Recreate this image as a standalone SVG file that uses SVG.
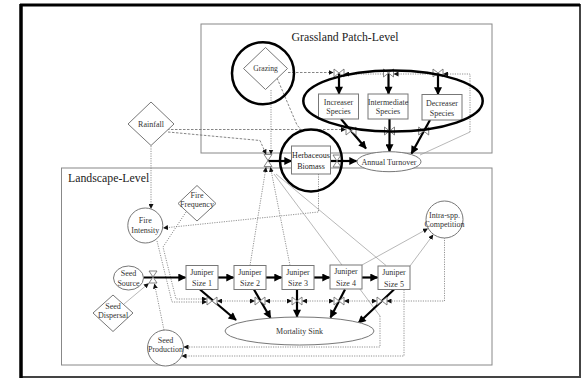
<svg xmlns="http://www.w3.org/2000/svg" width="583" height="378" viewBox="0 0 583 378">
<defs>
<style>
.t{font-family:"Liberation Serif","Times New Roman",serif;font-size:8px;fill:#333;text-anchor:middle}
.title{font-family:"Liberation Serif","Times New Roman",serif;font-size:11.8px;fill:#222}
.node{fill:#fff;stroke:#777;stroke-width:1}
.region{fill:none;stroke:#888;stroke-width:1}
.flow{stroke:#000;stroke-width:2.2;fill:none;marker-end:url(#ab)}
.dot{stroke:#777;stroke-width:0.8;stroke-dasharray:1.2 1.2;fill:none}
.dash{stroke:#666;stroke-width:0.8;stroke-dasharray:2.5 1.5;fill:none}
.thin{stroke:#999;stroke-width:0.7;fill:none}
.arr{marker-end:url(#as)}
.both{marker-start:url(#as);marker-end:url(#as)}
.hl{fill:none;stroke:#000;stroke-width:2.5}
.valve{fill:#fff;stroke:#666;stroke-width:0.8}
</style>
<marker id="ab" viewBox="0 0 10 10" refX="9" refY="5" markerWidth="9" markerHeight="8" markerUnits="userSpaceOnUse" orient="auto"><path d="M0,0 L10,5 L0,10 z" fill="#000"/></marker>
<marker id="as" viewBox="0 0 10 10" refX="9" refY="5" markerWidth="5" markerHeight="5" markerUnits="userSpaceOnUse" orient="auto-start-reverse"><path d="M0,0 L10,5 L0,10 z" fill="#111"/></marker>
<path id="vb" d="M-5,-4 V4 L5,-4 V4 Z"/>
<path id="vh" d="M-4,-6 H4 L-4,6 H4 Z"/>
</defs>

<g id="frame">
<rect x="21" y="5" width="559" height="372" fill="#fff" stroke="#444" stroke-width="2"/>
<line x1="21" y1="4" x2="21" y2="378" stroke="#000" stroke-width="3.5"/>
<line x1="20" y1="5" x2="580" y2="5" stroke="#000" stroke-width="3"/>
</g>

<g id="grassland-patch-level">
<rect class="region" x="201" y="24" width="291" height="129"/>
<text class="title" x="291.5" y="41">Grassland Patch-Level</text>
</g>
<g id="landscape-level">
<rect class="region" x="61.5" y="168" width="430.5" height="197"/>
<text class="title" x="68" y="181.5">Landscape-Level</text>
</g>

<g id="connectors">
<!-- grazing -->
<path class="dash arr" d="M288,72.5 H333"/>
<path class="dash" d="M277,78 L297,125 L301,129.5"/>
<path class="dot arr" d="M271,90 V154"/>
<!-- annual turnover feedback -->
<path class="thin" d="M420,155 L470,132"/>
<path class="dot arr" d="M470,132 V74 H443.5"/>
<path class="dot arr" d="M433,74 H394"/>
<path class="dot arr" d="M383.5,74 H344.5"/>
<!-- rainfall -->
<path class="dash arr" d="M167,129.5 H345.5"/>
<path class="dash arr" d="M168,132 L260,140.5 L266,154"/>
<path class="dot arr" d="M151,146 V208.5"/>
<!-- herbaceous -> fire intensity -->
<path class="dot arr" d="M318.5,174 V212 L163.5,228"/>
<!-- junipers -> herb valve -->
<path class="dot arr" d="M250,265.5 L266,167.5"/>
<path class="dot arr" d="M290,265.5 L270.5,167.5"/>
<path class="thin" d="M276,174 L386,265.5"/>
<path class="thin" d="M274,174 L380,316"/>
<path class="dot arr" d="M380,316 V347 H184"/>
<path class="dot arr" d="M404,289.5 V356 H182"/>
<!-- intra-spp -->
<path class="thin arr" d="M362,265 L427.5,228.8"/>
<path class="thin arr" d="M410,266 L433,235"/>
<path class="dot arr" d="M444.5,237.5 V301 H387"/>
<!-- fire -->
<path class="dot arr" d="M157,241 L172,302 H206.5"/>
<path class="dot arr" d="M186,212 L163,247 L176,299 H206.5"/>
<path class="dot both" d="M217.5,301 H254.5"/>
<path class="dot both" d="M265.5,301 H291.5"/>
<path class="dot both" d="M302.5,301 H333.5"/>
<path class="dot both" d="M344.5,301 H376.5"/>
<!-- seeds -->
<path class="thin arr" d="M124,304 L148.5,283.5"/>
<path class="dot arr" d="M164,330 L154.5,284"/>

<!-- material flows -->
<path class="flow" d="M339,73 V94"/>
<path class="flow" d="M388.5,73 V94"/>
<path class="flow" d="M438,73 V94.5"/>
<path class="flow" d="M341,119 L366,148.5"/>
<path class="flow" d="M389.5,119 V151.5"/>
<path class="flow" d="M430,120 L411.5,153.5"/>
<path class="flow" d="M268,161 H291.5"/>
<path class="flow" d="M330.5,161 H356.5"/>
<path class="flow" d="M143.5,277.5 H185.5"/>
<path class="flow" d="M218,277.5 H233.5"/>
<path class="flow" d="M266,277.5 H281.5"/>
<path class="flow" d="M314,277.5 H329.5"/>
<path class="flow" d="M362,277.5 H377.5"/>
<path class="flow" d="M200,289.5 L236,320"/>
<path class="flow" d="M254,289.5 L270.5,318"/>
<path class="flow" d="M297,289.5 V317"/>
<path class="flow" d="M345,289.5 L330.5,317.5"/>
<path class="flow" d="M394,289.5 L358.5,323"/>
</g>

<g id="valves" class="valve">
<use href="#vb" x="339" y="73"/>
<use href="#vb" x="388.5" y="73"/>
<use href="#vb" x="438" y="73"/>
<use href="#vb" x="351" y="131"/>
<use href="#vb" x="389.5" y="131"/>
<use href="#vb" x="423.7" y="131"/>
<use href="#vh" x="268" y="160.5"/>
<use href="#vh" x="337" y="161"/>
<use href="#vh" x="153" y="277"/>
<use href="#vb" x="212" y="301"/>
<use href="#vb" x="260" y="301"/>
<use href="#vb" x="297" y="301"/>
<use href="#vb" x="339" y="301"/>
<use href="#vb" x="382" y="301"/>
</g>

<g id="grazing">
<path class="node" d="M265.5,47.5 L287.5,68.5 L265.5,89.5 L243.5,68.5 Z"/>
<text class="t" x="265.5" y="71" style="font-size:7.6px">Grazing</text>
</g>
<g id="increaser-species">
<rect class="node" x="318.5" y="94" width="40" height="25"/>
<text class="t" x="338.5" y="104.5">Increaser</text>
<text class="t" x="338.5" y="114">Species</text>
</g>
<g id="intermediate-species">
<rect class="node" x="368" y="94" width="40" height="25"/>
<text class="t" x="388" y="104.5">Intermediate</text>
<text class="t" x="388" y="114">Species</text>
</g>
<g id="decreaser-species">
<rect class="node" x="422" y="94.5" width="40" height="25.5"/>
<text class="t" x="442" y="105.5">Decreaser</text>
<text class="t" x="442" y="115.5">Species</text>
</g>
<g id="rainfall">
<path class="node" d="M151,102 L174,124 L151,145.5 L128,124 Z"/>
<text class="t" x="151" y="126.5">Rainfall</text>
</g>
<g id="herbaceous-biomass">
<rect class="node" x="291.5" y="146" width="39" height="28"/>
<text class="t" x="311" y="157.5" style="fill:#222">Herbaceous</text>
<text class="t" x="311" y="168.5" style="fill:#222">Biomass</text>
</g>
<g id="annual-turnover">
<ellipse class="node" cx="389" cy="161.7" rx="32" ry="10"/>
<text class="t" x="389" y="164.5">Annual Turnover</text>
</g>
<g id="fire-frequency">
<path class="node" d="M197,185.5 L216,203.5 L197,221 L178,203.5 Z"/>
<text class="t" x="197" y="197.5">Fire</text>
<text class="t" x="197" y="206.5">Frequency</text>
</g>
<g id="fire-intensity">
<circle class="node" cx="145.3" cy="225.5" r="17.5"/>
<text class="t" x="145.3" y="223">Fire</text>
<text class="t" x="145.3" y="233">Intensity</text>
</g>
<g id="intra-spp-competition">
<circle class="node" cx="444.5" cy="219.5" r="18.5"/>
<text class="t" x="444.5" y="217.5">Intra-spp.</text>
<text class="t" x="444.5" y="226.5">Competition</text>
</g>
<g id="seed-source">
<ellipse class="node" cx="128.5" cy="278" rx="15" ry="12"/>
<text class="t" x="128.5" y="276">Seed</text>
<text class="t" x="128.5" y="285.5">Source</text>
</g>
<g id="seed-dispersal">
<path class="node" d="M113,295 L133,313 L113,331.5 L93,313 Z"/>
<text class="t" x="113" y="308.5">Seed</text>
<text class="t" x="113" y="317.5">Dispersal</text>
</g>
<g id="seed-production">
<circle class="node" cx="165.5" cy="348" r="18"/>
<text class="t" x="165.5" y="342.5">Seed</text>
<text class="t" x="165.5" y="352">Production</text>
</g>
<g id="juniper-size-1">
<rect class="node" x="186" y="265.5" width="32" height="24"/>
<text class="t" x="202" y="274.5">Juniper</text>
<text class="t" x="202" y="286">Size 1</text>
</g>
<g id="juniper-size-2">
<rect class="node" x="234" y="265.5" width="32" height="24"/>
<text class="t" x="250" y="274.5">Juniper</text>
<text class="t" x="250" y="286">Size 2</text>
</g>
<g id="juniper-size-3">
<rect class="node" x="282" y="265.5" width="32" height="24"/>
<text class="t" x="298" y="274.5">Juniper</text>
<text class="t" x="298" y="286">Size 3</text>
</g>
<g id="juniper-size-4">
<rect class="node" x="330" y="265" width="32" height="24"/>
<text class="t" x="346" y="274">Juniper</text>
<text class="t" x="346" y="285.5">Size 4</text>
</g>
<g id="juniper-size-5">
<rect class="node" x="378" y="266" width="32" height="23.5"/>
<text class="t" x="394" y="275">Juniper</text>
<text class="t" x="394" y="286.5">Size 5</text>
</g>
<g id="mortality-sink">
<ellipse class="node" cx="299.5" cy="331" rx="74.5" ry="14"/>
<text class="t" x="299.5" y="334">Mortality Sink</text>
</g>

<g id="highlights">
<circle class="hl" cx="263" cy="73.3" r="31"/>
<ellipse class="hl" cx="393" cy="101" rx="89.7" ry="30.5"/>
<circle class="hl" cx="311" cy="160.5" r="31"/>
</g>
</svg>
